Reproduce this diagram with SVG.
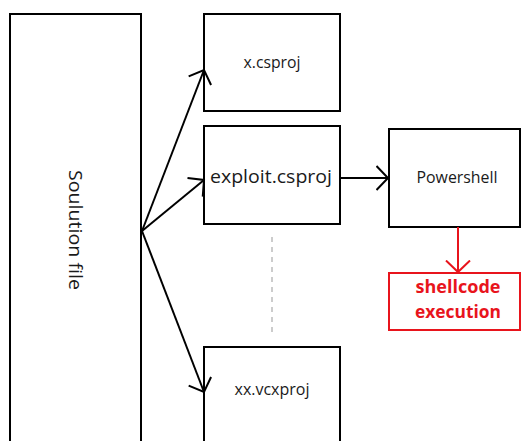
<svg xmlns="http://www.w3.org/2000/svg" width="521" height="441" viewBox="0 0 521 441">
<style>
.box{fill:#fff;stroke:#000;stroke-width:2}
.rbox{fill:#fff;stroke:#e8141c;stroke-width:2}
.t{font-family:"Open Sans","Noto Sans","DejaVu Sans",sans-serif;fill:#1a1a1a;text-anchor:middle}
.rt{font-family:"Open Sans","Noto Sans","DejaVu Sans",sans-serif;fill:#e8141c;font-weight:bold;text-anchor:middle;font-size:17px}
.c{fill:none;stroke:#000;stroke-width:2}
</style>
<defs>
<marker id="ah" viewBox="0 0 14 26" refX="12.5" refY="13" markerWidth="14" markerHeight="26" markerUnits="userSpaceOnUse" orient="auto">
<path d="M1,1 L12.5,13 L1,25" fill="none" stroke="#000" stroke-width="2"/>
</marker>
<marker id="ahr" viewBox="0 0 14 26" refX="12.5" refY="13" markerWidth="14" markerHeight="26" markerUnits="userSpaceOnUse" orient="auto">
<path d="M1,1 L12.5,13 L1,25" fill="none" stroke="#e8141c" stroke-width="2"/>
</marker>
</defs>
<rect width="521" height="441" fill="#fff"/>
<g id="solution">
<rect class="box" x="10" y="14" width="131" height="440"/>
<text class="t" font-size="19" transform="translate(69,230) rotate(90)" textLength="120" lengthAdjust="spacingAndGlyphs">Soulution file</text>
</g>
<g id="xcsproj">
<rect class="box" x="204" y="14" width="136" height="97"/>
<text class="t" x="272" y="68" font-size="16" textLength="57" lengthAdjust="spacingAndGlyphs">x.csproj</text>
</g>
<g id="exploit">
<rect class="box" x="204" y="126" width="136" height="98"/>
<text class="t" x="271" y="183" font-size="19" textLength="122" lengthAdjust="spacingAndGlyphs">exploit.csproj</text>
</g>
<g id="powershell">
<rect class="box" x="389" y="129" width="131" height="98"/>
<text class="t" x="457" y="183" font-size="16" textLength="81" lengthAdjust="spacingAndGlyphs">Powershell</text>
</g>
<g id="shellcode">
<rect class="rbox" x="389" y="273" width="131" height="57"/>
<text class="rt" x="458" y="293" textLength="85" lengthAdjust="spacingAndGlyphs">shellcode</text>
<text class="rt" x="458" y="318" textLength="86" lengthAdjust="spacingAndGlyphs">execution</text>
</g>
<g id="xxvcxproj">
<rect class="box" x="204" y="347" width="136" height="110"/>
<text class="t" x="272" y="395" font-size="16" textLength="75" lengthAdjust="spacingAndGlyphs">xx.vcxproj</text>
</g>
<g id="connectors">
<line class="c" x1="142" y1="231" x2="204" y2="70" marker-end="url(#ah)"/>
<line class="c" x1="142" y1="231" x2="204" y2="180" marker-end="url(#ah)"/>
<line class="c" x1="142" y1="231" x2="204" y2="392" marker-end="url(#ah)"/>
<line class="c" x1="340" y1="178" x2="388" y2="178" marker-end="url(#ah)"/>
<line x1="458" y1="227" x2="458" y2="272" stroke="#e8141c" stroke-width="2" marker-end="url(#ahr)"/>
<line x1="272" y1="237" x2="272" y2="333" stroke="#999" stroke-width="1" stroke-dasharray="5,5"/>
</g>
</svg>
